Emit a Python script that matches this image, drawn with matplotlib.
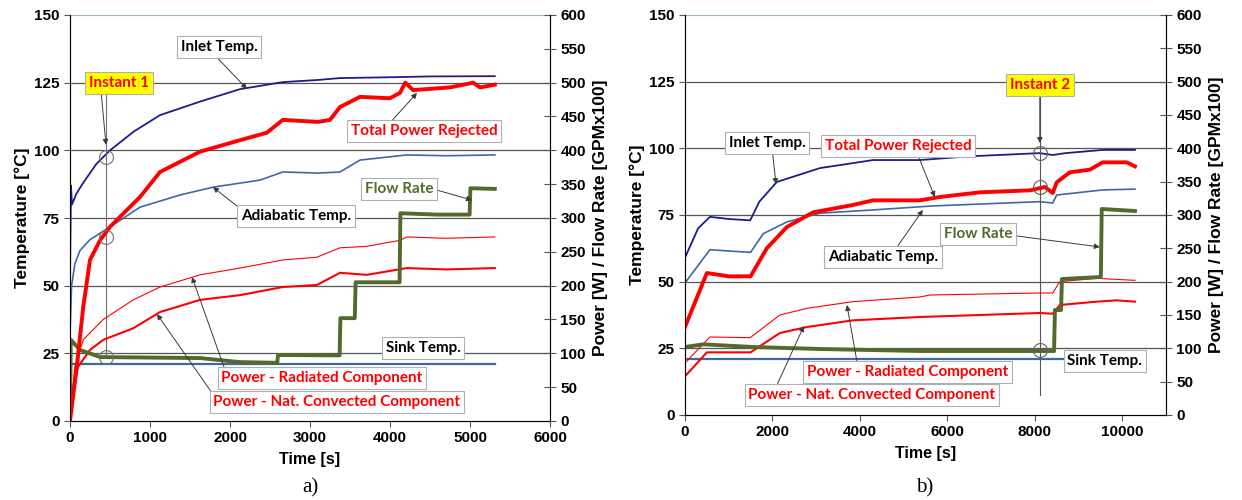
import numpy as np
import matplotlib.pyplot as plt

# ---- panel a) data (time in s, temperature in degC, power in W / flow in GPMx100)
inlet_t_a = [0, 12, 25, 80, 165, 330, 500, 800, 1125, 1625, 2125, 2660, 3100, 3375, 4000, 4500, 5310]
inlet_a = [53, 87, 80, 84, 88, 95, 100, 107, 113, 118, 122.6, 125.2, 126, 126.7, 127, 127.3, 127.4]
adiab_t_a = [0, 20, 60, 125, 250, 500, 875, 1375, 1790, 2375, 2660, 3100, 3375, 3625, 4210, 4700, 5310]
adiab_a = [32, 50, 58, 63, 67, 71.7, 79, 83.5, 86.4, 89, 92, 91.6, 92, 96.4, 98.3, 98, 98.3]
sink_t_a = [0, 5310]
sink_a = [21, 21]
total_t_a = [0, 85, 165, 250, 375, 500, 875, 1125, 1625, 2125, 2460, 2660, 3100, 3250, 3375,
             3625, 4000, 4125, 4190, 4290, 4750, 5040, 5125, 5310]
total_a = [0, 80, 168, 238, 267, 287, 331, 368, 398, 415, 426, 445, 442, 445, 464,
           479, 477, 485, 500, 489, 493, 500, 493, 497]
rad_t_a = [0, 60, 165, 415, 790, 1125, 1625, 2125, 2660, 3085, 3375, 3700, 4125, 4210, 4700, 5310]
rad_a = [5, 80, 120, 150, 179, 198, 216, 226, 238, 242, 256, 258, 267, 272, 270, 272]
conv_t_a = [0, 20, 100, 250, 415, 790, 1125, 1625, 2125, 2660, 3085, 3375, 3710, 4210, 4700, 5310]
conv_a = [0, 40, 80, 105, 120, 137, 161, 179, 186, 198, 201, 219, 216, 226, 224, 226]
flow_t_a = [0, 10, 125, 375, 1625, 2125, 2590, 2600, 3370, 3380, 3560, 3570, 4120, 4130, 4600,
            4995, 5005, 5310]
flow_a = [0, 120, 105, 94.5, 93, 87, 86, 97.5, 97, 152, 152, 205, 205, 307, 305, 305, 344, 343]
instant_t_a = 450
circles_a = [97.5, 68, 23.5]

# ---- panel b) data
inlet_t_b = [0, 300, 570, 1000, 1490, 1700, 2100, 3090, 4300, 5370, 6500, 8110, 8410, 8700, 9550, 10290]
inlet_b = [59, 70, 74.3, 73.5, 73, 80, 87.4, 92.6, 95.6, 95.6, 97, 98.2, 97.5, 98.2, 99.4, 99.4]
adiab_t_b = [0, 570, 1000, 1500, 1790, 2330, 3090, 4300, 5670, 8110, 8410, 8500, 9550, 10290]
adiab_b = [49.5, 62, 61.5, 61, 68, 72.4, 75.7, 76.9, 78.4, 80, 79.5, 82.5, 84.4, 84.7]
sink_t_b = [0, 10290]
sink_b = [21, 21]
total_t_b = [0, 500, 1000, 1500, 1870, 2330, 2930, 3840, 4300, 5370, 5830, 6740, 7890, 8230,
             8410, 8500, 8800, 9260, 9550, 10100, 10290]
total_b = [132, 213, 208, 208, 250, 282, 304, 315, 322, 322, 327, 334, 337, 342,
           333, 349, 364, 368, 379, 379, 373]
rad_t_b = [0, 570, 1490, 2170, 2790, 3840, 5370, 5600, 8110, 8410, 8570, 9410, 10290]
rad_b = [78, 117, 116, 150, 160, 170, 177, 180, 183, 183, 200, 205, 202]
conv_t_b = [0, 500, 1500, 2170, 2790, 3840, 5370, 8110, 8410, 8570, 9410, 9870, 10290]
conv_b = [58, 94, 94, 123, 132, 142, 147, 153, 152, 165, 170, 172, 170]
flow_t_b = [0, 420, 1550, 3090, 5370, 7500, 8440, 8460, 8600, 8620, 9510, 9530, 10290]
flow_b = [102, 106, 102, 99, 96, 96, 96, 157.5, 157.5, 204, 207, 309, 306]
instant_t_b = 8114
circles_b = [98.2, 85.5, 24.4]

NAVY = '#1c1c8a'
STEEL = '#3d69a3'
RED = '#ff0000'
GREEN = '#546a2c'
ANN_FONT = ['Lato', 'DejaVu Sans']

plt.rcParams['font.family'] = ['Liberation Sans', 'DejaVu Sans']

fig = plt.figure(figsize=(12.42, 5), dpi=100)
ax_a = fig.add_axes([70 / 1242, 79 / 500, 480 / 1242, 406 / 500])
ax_b = fig.add_axes([685 / 1242, 85 / 500, 481 / 1242, 400 / 500])


def setup(ax, xmax, xticks):
    ax.set_xlim(0, xmax)
    ax.set_ylim(0, 150)
    ax.set_xticks(xticks)
    ax.set_yticks(np.arange(0, 151, 25))
    for y in range(25, 150, 25):
        ax.axhline(y, color='#555555', lw=0.9, zorder=1)
    for s in ['left', 'bottom']:
        ax.spines[s].set_color('#8c8c8c')
    ax.spines['top'].set_color('#9fb6d9')
    ax.spines['right'].set_color('#8c8c8c')
    ax.tick_params(labelsize=11, length=4, color='#555555')
    for lab in ax.get_xticklabels() + ax.get_yticklabels():
        lab.set_fontweight('bold')
    ax.set_xlabel('Time [s]', fontsize=11.5, fontweight='bold', labelpad=5)
    ax.set_ylabel('Temperature [°C]', fontsize=12.5, fontweight='bold', labelpad=3)
    ax2 = ax.twinx()
    ax2.set_ylim(0, 600)
    ax2.set_yticks(np.arange(0, 601, 50))
    ax2.tick_params(labelsize=11, length=8, direction='inout', color='#555555')
    for lab in ax2.get_yticklabels():
        lab.set_fontweight('bold')
    ax2.set_ylabel('Power [W] / Flow Rate [GPMx100]', fontsize=12.5, fontweight='bold', labelpad=5)
    ax2.spines['top'].set_visible(False)
    return ax2


def note(ax2, ax, text, xy, xytext, color='black', relpos=None, yellow=False):
    box = dict(boxstyle='square,pad=0.25', fc='yellow' if yellow else 'white',
               ec='#b0b0b0', lw=0.8)
    kw = {}
    if relpos is not None:
        kw['arrowprops'] = dict(arrowstyle='-|>', color='#3a3a3a', lw=0.7,
                                mutation_scale=8, relpos=relpos, shrinkA=0, shrinkB=0)
    ax2.annotate(text, xy=xy if xy else xytext, xycoords=ax.transData,
                 xytext=xytext, textcoords=ax.transData, ha='center', va='center',
                 fontsize=11, fontweight='bold', color=color, family=ANN_FONT,
                 bbox=box, zorder=10, **kw)


# ---- panel a)
ax2_a = setup(ax_a, 6000, np.arange(0, 6001, 1000))
ax_a.plot(sink_t_a, sink_a, color=STEEL, lw=1.6, zorder=3)
ax_a.plot(adiab_t_a, adiab_a, color=STEEL, lw=1.2, zorder=3)
ax_a.plot(inlet_t_a, inlet_a, color=NAVY, lw=1.3, zorder=3)
ax2_a.plot(rad_t_a, rad_a, color=RED, lw=0.8)
ax2_a.plot(conv_t_a, conv_a, color=RED, lw=1.5)
ax2_a.plot(flow_t_a, flow_a, color=GREEN, lw=2.8)
ax2_a.plot(total_t_a, total_a, color=RED, lw=2.8)
ax_a.plot([instant_t_a, instant_t_a], [23.5, 121], color='#707070', lw=0.8, zorder=4)
ax2_a.plot([instant_t_a] * 3, [c * 4 for c in circles_a], 'o', ms=10, mfc='none',
           mec='#707070', mew=0.8)

note(ax2_a, ax_a, 'Instant 1', (450, 102), (612, 124.9), color=RED, relpos=(0.2, 0), yellow=True)
note(ax2_a, ax_a, 'Inlet Temp.', (2212, 122.7), (1862, 138.2), relpos=(0.43, 0))
note(ax2_a, ax_a, 'Adiabatic Temp.', (1787, 86.4), (2825, 75.7), relpos=(0.0, 1))
note(ax2_a, ax_a, 'Total Power Rejected', (4337, 121.2), (4425, 107.1), color=RED, relpos=(0.26, 1))
note(ax2_a, ax_a, 'Flow Rate', (5025, 81.6), (4112, 85.7), color=GREEN, relpos=(1, 0.5))
note(ax2_a, ax_a, 'Sink Temp.', None, (4412, 27))
note(ax2_a, ax_a, 'Power - Radiated Component', (1525, 53.2), (3150, 15.9), color=RED, relpos=(0.02, 1))
note(ax2_a, ax_a, 'Power - Nat. Convected Component', (1087, 39.5), (3337, 7), color=RED, relpos=(0.0, 1))

# ---- panel b)
ax2_b = setup(ax_b, 11000, np.arange(0, 10001, 2000))
ax_b.plot(sink_t_b, sink_b, color=STEEL, lw=1.6, zorder=3)
ax_b.plot(adiab_t_b, adiab_b, color=STEEL, lw=1.2, zorder=3)
ax_b.plot(inlet_t_b, inlet_b, color=NAVY, lw=1.3, zorder=3)
ax2_b.plot(rad_t_b, rad_b, color=RED, lw=0.8)
ax2_b.plot(conv_t_b, conv_b, color=RED, lw=1.5)
ax2_b.plot(flow_t_b, flow_b, color=GREEN, lw=2.8)
ax2_b.plot(total_t_b, total_b, color=RED, lw=2.8)
ax_b.plot([instant_t_b, instant_t_b], [7.5, 120], color='#555555', lw=0.8, zorder=4)
ax2_b.plot([instant_t_b] * 3, [c * 4 for c in circles_b], 'o', ms=10, mfc='none',
           mec='#606060', mew=0.8)

note(ax2_b, ax_b, 'Instant 2', (8114, 102), (8114, 123.75), color=RED, relpos=(0.5, 0), yellow=True)
note(ax2_b, ax_b, 'Inlet Temp.', (2080, 86.6), (1874, 102), relpos=(0.57, 0))
note(ax2_b, ax_b, 'Total Power Rejected', (5714, 81.75), (4869, 100.9), color=RED, relpos=(0.63, 0))
note(ax2_b, ax_b, 'Adiabatic Temp.', (5440, 76.9), (4526, 59.25), relpos=(0.61, 1))
note(ax2_b, ax_b, 'Flow Rate', (9486, 63), (6697, 67.9), color=GREEN, relpos=(1, 0.4))
note(ax2_b, ax_b, 'Sink Temp.', None, (9600, 20.25))
note(ax2_b, ax_b, 'Power - Radiated Component', (3703, 41.25), (5097, 16.1), color=RED, relpos=(0.25, 1))
note(ax2_b, ax_b, 'Power - Nat. Convected Component', (2720, 33.4), (4274, 7.5), color=RED, relpos=(0.11, 1))

fig.text(310 / 1242, 1 - 488 / 500, 'a)', ha='center', va='center', fontsize=15,
         family=['Liberation Serif', 'DejaVu Serif'])
fig.text(925 / 1242, 1 - 488 / 500, 'b)', ha='center', va='center', fontsize=15,
         family=['Liberation Serif', 'DejaVu Serif'])

fig.savefig('out.png', dpi=100)
